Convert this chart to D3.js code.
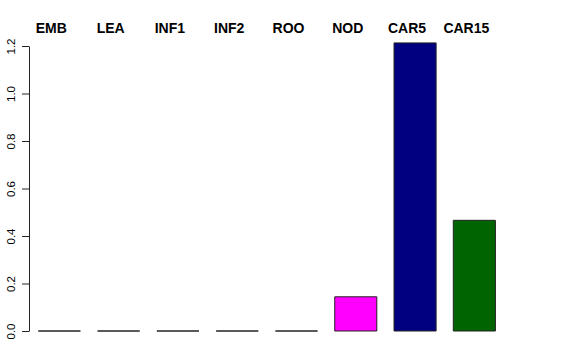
<!DOCTYPE html>
<html><head><meta charset="utf-8">
<script src="https://cdn.jsdelivr.net/npm/d3@7"></script>
<style>body{margin:0;background:#fff}svg{display:block}</style>
</head><body>
<script>
const categories = ["EMB","LEA","INF1","INF2","ROO","NOD","CAR5","CAR15"];
const values = [0,0,0,0,0,0.144,1.213,0.466];
const colors = ["#FF0000","#00CD00","#0000FF","#00FFFF","#FFA500","#FF00FF","#000080","#006400"];
const yTicks = [0,0.2,0.4,0.6,0.8,1.0,1.2];

const W=576,H=360;
const svg=d3.select("body").append("svg").attr("width",W).attr("height",H);
const x=d3.scaleBand().domain(categories).range([38.3,495.4]).paddingInner(0.29).paddingOuter(0);
const y=d3.scaleLinear().domain([0,1.2]).range([331,46]);

svg.selectAll("path.bar").data(categories).enter().append("path")
  .attr("d",(d,i)=>{const x0=x(d),x1=x(d)+x.bandwidth(),y0=y(0),y1=y(values[i]);
    return `M${x0},${y0}V${y1}H${x1}V${y0}Z`;})
  .attr("fill",(d,i)=>colors[i]).attr("stroke","#222").attr("stroke-width",1);

svg.selectAll("text.lab").data(categories).enter().append("text")
  .attr("x",d=>x(d)+x.bandwidth()/2-8).attr("y",33)
  .attr("text-anchor","middle").attr("font-family","Liberation Sans, Arial, sans-serif")
  .attr("font-weight","bold").attr("font-size",14).text(d=>d);

const ax=svg.append("g").attr("transform","translate(29,0)")
  .call(d3.axisLeft(y).tickValues(yTicks).tickFormat(d3.format(".1f")).tickSize(7).tickSizeOuter(0));
ax.select(".domain").attr("stroke","#222");
ax.selectAll(".tick line").attr("stroke","#222");
ax.selectAll(".tick text").attr("font-family","Liberation Sans, Arial, sans-serif").attr("font-size",11.5)
  .attr("fill","#000").attr("text-anchor","middle").attr("dy",0)
  .attr("transform","translate(-14,0) rotate(-90)").attr("x",0).attr("y",0);
</script>
</body></html>
